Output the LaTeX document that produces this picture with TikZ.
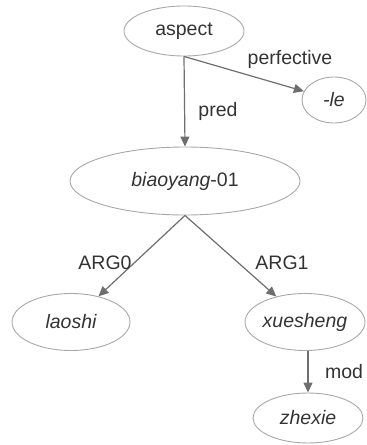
\documentclass[tikz,border=0pt]{standalone}
\usepackage{fontspec}
\setmainfont{Liberation Sans}
\usetikzlibrary{shapes.geometric,arrows.meta}
\definecolor{ellcol}{HTML}{A8A8A8}
\definecolor{edgecol}{HTML}{6E6E6E}
\definecolor{txtcol}{HTML}{333333}
\begin{document}
\begin{tikzpicture}[x=1pt,y=-1pt,
  font=\fontsize{19.5}{23}\selectfont,
  concept/.style={ellipse,draw=ellcol,line width=0.9pt,text=txtcol,inner sep=0pt},
  rel/.style={draw=edgecol,line width=1.2pt,-{Triangle[length=10pt,width=9pt]},fill=none},
  lab/.style={text=txtcol,inner sep=0pt}]
\useasboundingbox (0,0) rectangle (367,445);
\node[concept,minimum width=120pt,minimum height=50pt] (aspect) at (184,31) {aspect};
\node[concept,minimum width=64pt,minimum height=46pt] (le) at (334,100) {\itshape -le};
\node[concept,minimum width=230pt,minimum height=68pt] (bia) at (185,181) {\itshape biaoyang\upshape -01};
\node[concept,minimum width=118pt,minimum height=57pt] (lao) at (71,322) {\itshape laoshi};
\node[concept,minimum width=120pt,minimum height=57pt] (xue) at (305,322) {\itshape xuesheng};
\node[concept,minimum width=110pt,minimum height=50pt] (zhe) at (308,418) {\itshape zhexie};
\draw[rel] (aspect.south) -- (le);
\draw[rel] (aspect.south) -- (bia.north);
\draw[rel] (bia.south) -- (lao);
\draw[rel] (bia.south) -- (xue);
\draw[rel] (xue.south -| zhe.north) -- (zhe.north);
\node[lab] (lperf) at (290,59) {perfective};
\node[lab] (lpred) at (218,111) {pred};
\node[lab] (larg0) at (105,263) {ARG0};
\node[lab] (larg1) at (282,263) {ARG1};
\node[lab] (lmod) at (344,372) {mod};
\end{tikzpicture}
\end{document}
